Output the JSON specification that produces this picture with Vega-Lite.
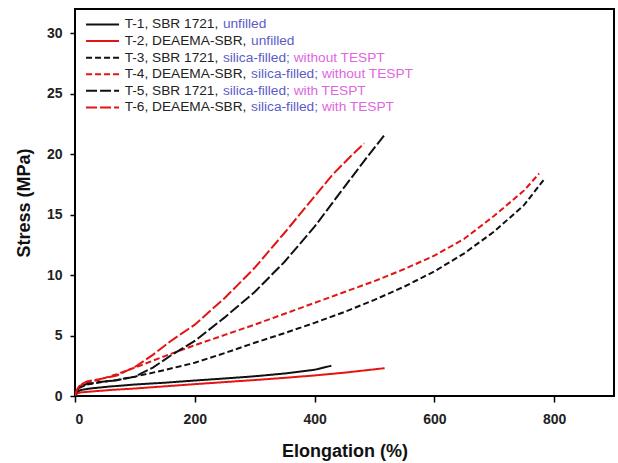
{
  "$schema": "https://vega.github.io/schema/vega-lite/v6.json",
  "width": 539,
  "height": 387,
  "autosize": {"type": "none"},
  "padding": {"left": 75, "top": 9, "right": 4, "bottom": 67},
  "background": "#ffffff",
  "data": {
    "values": [
      {"sample": "T-1", "series": "T-1, SBR 1721, unfilled", "elongation": 0, "stress": 0},
      {"sample": "T-1", "series": "T-1, SBR 1721, unfilled", "elongation": 4, "stress": 0.35},
      {"sample": "T-1", "series": "T-1, SBR 1721, unfilled", "elongation": 10, "stress": 0.5},
      {"sample": "T-1", "series": "T-1, SBR 1721, unfilled", "elongation": 25, "stress": 0.62},
      {"sample": "T-1", "series": "T-1, SBR 1721, unfilled", "elongation": 55, "stress": 0.77},
      {"sample": "T-1", "series": "T-1, SBR 1721, unfilled", "elongation": 100, "stress": 0.95},
      {"sample": "T-1", "series": "T-1, SBR 1721, unfilled", "elongation": 150, "stress": 1.1},
      {"sample": "T-1", "series": "T-1, SBR 1721, unfilled", "elongation": 200, "stress": 1.28},
      {"sample": "T-1", "series": "T-1, SBR 1721, unfilled", "elongation": 250, "stress": 1.45},
      {"sample": "T-1", "series": "T-1, SBR 1721, unfilled", "elongation": 300, "stress": 1.63},
      {"sample": "T-1", "series": "T-1, SBR 1721, unfilled", "elongation": 350, "stress": 1.86},
      {"sample": "T-1", "series": "T-1, SBR 1721, unfilled", "elongation": 400, "stress": 2.17},
      {"sample": "T-1", "series": "T-1, SBR 1721, unfilled", "elongation": 428, "stress": 2.5},
      {"sample": "T-2", "series": "T-2, DEAEMA-SBR, unfilled", "elongation": 0, "stress": 0},
      {"sample": "T-2", "series": "T-2, DEAEMA-SBR, unfilled", "elongation": 3, "stress": 0.2},
      {"sample": "T-2", "series": "T-2, DEAEMA-SBR, unfilled", "elongation": 10, "stress": 0.3},
      {"sample": "T-2", "series": "T-2, DEAEMA-SBR, unfilled", "elongation": 30, "stress": 0.38},
      {"sample": "T-2", "series": "T-2, DEAEMA-SBR, unfilled", "elongation": 60, "stress": 0.5},
      {"sample": "T-2", "series": "T-2, DEAEMA-SBR, unfilled", "elongation": 100, "stress": 0.62},
      {"sample": "T-2", "series": "T-2, DEAEMA-SBR, unfilled", "elongation": 150, "stress": 0.8},
      {"sample": "T-2", "series": "T-2, DEAEMA-SBR, unfilled", "elongation": 200, "stress": 0.98},
      {"sample": "T-2", "series": "T-2, DEAEMA-SBR, unfilled", "elongation": 250, "stress": 1.15},
      {"sample": "T-2", "series": "T-2, DEAEMA-SBR, unfilled", "elongation": 300, "stress": 1.32},
      {"sample": "T-2", "series": "T-2, DEAEMA-SBR, unfilled", "elongation": 350, "stress": 1.5},
      {"sample": "T-2", "series": "T-2, DEAEMA-SBR, unfilled", "elongation": 400, "stress": 1.7},
      {"sample": "T-2", "series": "T-2, DEAEMA-SBR, unfilled", "elongation": 450, "stress": 1.93},
      {"sample": "T-2", "series": "T-2, DEAEMA-SBR, unfilled", "elongation": 517, "stress": 2.3},
      {"sample": "T-3", "series": "T-3, SBR 1721, silica-filled; without TESPT", "elongation": 0, "stress": 0},
      {"sample": "T-3", "series": "T-3, SBR 1721, silica-filled; without TESPT", "elongation": 3, "stress": 0.4},
      {"sample": "T-3", "series": "T-3, SBR 1721, silica-filled; without TESPT", "elongation": 8, "stress": 0.7},
      {"sample": "T-3", "series": "T-3, SBR 1721, silica-filled; without TESPT", "elongation": 20, "stress": 0.95},
      {"sample": "T-3", "series": "T-3, SBR 1721, silica-filled; without TESPT", "elongation": 40, "stress": 1.12},
      {"sample": "T-3", "series": "T-3, SBR 1721, silica-filled; without TESPT", "elongation": 70, "stress": 1.33},
      {"sample": "T-3", "series": "T-3, SBR 1721, silica-filled; without TESPT", "elongation": 100, "stress": 1.6},
      {"sample": "T-3", "series": "T-3, SBR 1721, silica-filled; without TESPT", "elongation": 150, "stress": 2.15},
      {"sample": "T-3", "series": "T-3, SBR 1721, silica-filled; without TESPT", "elongation": 200, "stress": 2.75},
      {"sample": "T-3", "series": "T-3, SBR 1721, silica-filled; without TESPT", "elongation": 250, "stress": 3.55},
      {"sample": "T-3", "series": "T-3, SBR 1721, silica-filled; without TESPT", "elongation": 300, "stress": 4.4},
      {"sample": "T-3", "series": "T-3, SBR 1721, silica-filled; without TESPT", "elongation": 350, "stress": 5.2},
      {"sample": "T-3", "series": "T-3, SBR 1721, silica-filled; without TESPT", "elongation": 400, "stress": 6.05},
      {"sample": "T-3", "series": "T-3, SBR 1721, silica-filled; without TESPT", "elongation": 450, "stress": 6.95},
      {"sample": "T-3", "series": "T-3, SBR 1721, silica-filled; without TESPT", "elongation": 500, "stress": 7.95},
      {"sample": "T-3", "series": "T-3, SBR 1721, silica-filled; without TESPT", "elongation": 550, "stress": 9.05},
      {"sample": "T-3", "series": "T-3, SBR 1721, silica-filled; without TESPT", "elongation": 600, "stress": 10.3},
      {"sample": "T-3", "series": "T-3, SBR 1721, silica-filled; without TESPT", "elongation": 650, "stress": 11.8},
      {"sample": "T-3", "series": "T-3, SBR 1721, silica-filled; without TESPT", "elongation": 700, "stress": 13.6},
      {"sample": "T-3", "series": "T-3, SBR 1721, silica-filled; without TESPT", "elongation": 750, "stress": 15.8},
      {"sample": "T-3", "series": "T-3, SBR 1721, silica-filled; without TESPT", "elongation": 783, "stress": 17.9},
      {"sample": "T-4", "series": "T-4, DEAEMA-SBR, silica-filled; without TESPT", "elongation": 0, "stress": 0},
      {"sample": "T-4", "series": "T-4, DEAEMA-SBR, silica-filled; without TESPT", "elongation": 3, "stress": 0.5},
      {"sample": "T-4", "series": "T-4, DEAEMA-SBR, silica-filled; without TESPT", "elongation": 8, "stress": 0.85},
      {"sample": "T-4", "series": "T-4, DEAEMA-SBR, silica-filled; without TESPT", "elongation": 20, "stress": 1.1},
      {"sample": "T-4", "series": "T-4, DEAEMA-SBR, silica-filled; without TESPT", "elongation": 40, "stress": 1.35},
      {"sample": "T-4", "series": "T-4, DEAEMA-SBR, silica-filled; without TESPT", "elongation": 70, "stress": 1.8},
      {"sample": "T-4", "series": "T-4, DEAEMA-SBR, silica-filled; without TESPT", "elongation": 100, "stress": 2.35},
      {"sample": "T-4", "series": "T-4, DEAEMA-SBR, silica-filled; without TESPT", "elongation": 150, "stress": 3.3},
      {"sample": "T-4", "series": "T-4, DEAEMA-SBR, silica-filled; without TESPT", "elongation": 200, "stress": 4.2},
      {"sample": "T-4", "series": "T-4, DEAEMA-SBR, silica-filled; without TESPT", "elongation": 250, "stress": 5.05},
      {"sample": "T-4", "series": "T-4, DEAEMA-SBR, silica-filled; without TESPT", "elongation": 300, "stress": 5.9},
      {"sample": "T-4", "series": "T-4, DEAEMA-SBR, silica-filled; without TESPT", "elongation": 350, "stress": 6.8},
      {"sample": "T-4", "series": "T-4, DEAEMA-SBR, silica-filled; without TESPT", "elongation": 400, "stress": 7.7},
      {"sample": "T-4", "series": "T-4, DEAEMA-SBR, silica-filled; without TESPT", "elongation": 450, "stress": 8.6},
      {"sample": "T-4", "series": "T-4, DEAEMA-SBR, silica-filled; without TESPT", "elongation": 500, "stress": 9.5},
      {"sample": "T-4", "series": "T-4, DEAEMA-SBR, silica-filled; without TESPT", "elongation": 550, "stress": 10.5},
      {"sample": "T-4", "series": "T-4, DEAEMA-SBR, silica-filled; without TESPT", "elongation": 600, "stress": 11.6},
      {"sample": "T-4", "series": "T-4, DEAEMA-SBR, silica-filled; without TESPT", "elongation": 650, "stress": 13.0},
      {"sample": "T-4", "series": "T-4, DEAEMA-SBR, silica-filled; without TESPT", "elongation": 700, "stress": 14.9},
      {"sample": "T-4", "series": "T-4, DEAEMA-SBR, silica-filled; without TESPT", "elongation": 750, "stress": 17.0},
      {"sample": "T-4", "series": "T-4, DEAEMA-SBR, silica-filled; without TESPT", "elongation": 775, "stress": 18.4},
      {"sample": "T-5", "series": "T-5, SBR 1721, silica-filled; with TESPT", "elongation": 0, "stress": 0},
      {"sample": "T-5", "series": "T-5, SBR 1721, silica-filled; with TESPT", "elongation": 3, "stress": 0.4},
      {"sample": "T-5", "series": "T-5, SBR 1721, silica-filled; with TESPT", "elongation": 8, "stress": 0.75},
      {"sample": "T-5", "series": "T-5, SBR 1721, silica-filled; with TESPT", "elongation": 20, "stress": 1.0},
      {"sample": "T-5", "series": "T-5, SBR 1721, silica-filled; with TESPT", "elongation": 40, "stress": 1.15},
      {"sample": "T-5", "series": "T-5, SBR 1721, silica-filled; with TESPT", "elongation": 70, "stress": 1.3},
      {"sample": "T-5", "series": "T-5, SBR 1721, silica-filled; with TESPT", "elongation": 100, "stress": 1.6},
      {"sample": "T-5", "series": "T-5, SBR 1721, silica-filled; with TESPT", "elongation": 130, "stress": 2.35},
      {"sample": "T-5", "series": "T-5, SBR 1721, silica-filled; with TESPT", "elongation": 160, "stress": 3.35},
      {"sample": "T-5", "series": "T-5, SBR 1721, silica-filled; with TESPT", "elongation": 200, "stress": 4.55},
      {"sample": "T-5", "series": "T-5, SBR 1721, silica-filled; with TESPT", "elongation": 250, "stress": 6.5},
      {"sample": "T-5", "series": "T-5, SBR 1721, silica-filled; with TESPT", "elongation": 300, "stress": 8.6},
      {"sample": "T-5", "series": "T-5, SBR 1721, silica-filled; with TESPT", "elongation": 350, "stress": 11.1},
      {"sample": "T-5", "series": "T-5, SBR 1721, silica-filled; with TESPT", "elongation": 400, "stress": 14.0},
      {"sample": "T-5", "series": "T-5, SBR 1721, silica-filled; with TESPT", "elongation": 450, "stress": 17.3},
      {"sample": "T-5", "series": "T-5, SBR 1721, silica-filled; with TESPT", "elongation": 490, "stress": 19.9},
      {"sample": "T-5", "series": "T-5, SBR 1721, silica-filled; with TESPT", "elongation": 517, "stress": 21.6},
      {"sample": "T-6", "series": "T-6, DEAEMA-SBR, silica-filled; with TESPT", "elongation": 0, "stress": 0},
      {"sample": "T-6", "series": "T-6, DEAEMA-SBR, silica-filled; with TESPT", "elongation": 3, "stress": 0.5},
      {"sample": "T-6", "series": "T-6, DEAEMA-SBR, silica-filled; with TESPT", "elongation": 8, "stress": 0.9},
      {"sample": "T-6", "series": "T-6, DEAEMA-SBR, silica-filled; with TESPT", "elongation": 20, "stress": 1.2},
      {"sample": "T-6", "series": "T-6, DEAEMA-SBR, silica-filled; with TESPT", "elongation": 40, "stress": 1.38},
      {"sample": "T-6", "series": "T-6, DEAEMA-SBR, silica-filled; with TESPT", "elongation": 70, "stress": 1.7},
      {"sample": "T-6", "series": "T-6, DEAEMA-SBR, silica-filled; with TESPT", "elongation": 100, "stress": 2.4},
      {"sample": "T-6", "series": "T-6, DEAEMA-SBR, silica-filled; with TESPT", "elongation": 130, "stress": 3.4},
      {"sample": "T-6", "series": "T-6, DEAEMA-SBR, silica-filled; with TESPT", "elongation": 160, "stress": 4.55},
      {"sample": "T-6", "series": "T-6, DEAEMA-SBR, silica-filled; with TESPT", "elongation": 200, "stress": 5.9},
      {"sample": "T-6", "series": "T-6, DEAEMA-SBR, silica-filled; with TESPT", "elongation": 250, "stress": 8.1},
      {"sample": "T-6", "series": "T-6, DEAEMA-SBR, silica-filled; with TESPT", "elongation": 300, "stress": 10.6},
      {"sample": "T-6", "series": "T-6, DEAEMA-SBR, silica-filled; with TESPT", "elongation": 350, "stress": 13.5},
      {"sample": "T-6", "series": "T-6, DEAEMA-SBR, silica-filled; with TESPT", "elongation": 400, "stress": 16.5},
      {"sample": "T-6", "series": "T-6, DEAEMA-SBR, silica-filled; with TESPT", "elongation": 430, "stress": 18.3},
      {"sample": "T-6", "series": "T-6, DEAEMA-SBR, silica-filled; with TESPT", "elongation": 460, "stress": 19.8},
      {"sample": "T-6", "series": "T-6, DEAEMA-SBR, silica-filled; with TESPT", "elongation": 483, "stress": 20.9}
    ]
  },
  "mark": {"type": "line", "clip": true},
  "encoding": {
    "x": {
      "field": "elongation", "type": "quantitative",
      "scale": {"domain": [0, 900], "nice": false, "zero": false},
      "axis": {"title": "Elongation (%)", "values": [0, 200, 400, 600, 800], "tickSize": 6, "labelPadding": 10, "titlePadding": 16}
    },
    "y": {
      "field": "stress", "type": "quantitative",
      "scale": {"domain": [0, 32], "nice": false, "zero": false},
      "axis": {"title": "Stress (MPa)", "values": [0, 5, 10, 15, 20, 25, 30], "tickSize": 5, "labelPadding": 8, "titlePadding": 13}
    },
    "color": {
      "field": "series", "type": "nominal",
      "scale": {
        "domain": ["T-1, SBR 1721, unfilled", "T-2, DEAEMA-SBR, unfilled", "T-3, SBR 1721, silica-filled; without TESPT", "T-4, DEAEMA-SBR, silica-filled; without TESPT", "T-5, SBR 1721, silica-filled; with TESPT", "T-6, DEAEMA-SBR, silica-filled; with TESPT"],
        "range": ["#111111", "#e41414", "#111111", "#e41414", "#111111", "#e41414"]
      },
      "legend": {"title": null, "labelExpr": "split(datum.label, ', ')[0] + ', ' + split(datum.label, ', ')[1] + ','"}
    },
    "strokeDash": {
      "field": "series", "type": "nominal",
      "scale": {
        "domain": ["T-1, SBR 1721, unfilled", "T-2, DEAEMA-SBR, unfilled", "T-3, SBR 1721, silica-filled; without TESPT", "T-4, DEAEMA-SBR, silica-filled; without TESPT", "T-5, SBR 1721, silica-filled; with TESPT", "T-6, DEAEMA-SBR, silica-filled; with TESPT"],
        "range": [[1, 0], [1, 0], [6, 3], [6, 3], [11, 3], [11, 3]]
      },
      "legend": {"title": null, "labelExpr": "split(datum.label, ', ')[0] + ', ' + split(datum.label, ', ')[1] + ','"}
    },
    "opacity": {
      "field": "series", "type": "ordinal",
      "scale": {"range": [1, 1]},
      "legend": {
        "title": null,
        "symbolType": "M0,0",
        "labelColor": "#5c5cc8",
        "labelExpr": "split(split(datum.label, ', ')[2], ' ')[0]",
        "encode": {"labels": {"update": {"dx": {"signal": "indexof(datum.value, 'DEAEMA') >= 0 ? 126.4 : 98.2"}}}}
      }
    },
    "strokeWidth": {
      "field": "sample", "type": "ordinal",
      "scale": {"range": [2, 2]},
      "legend": {
        "title": null,
        "symbolType": "M0,0",
        "labelColor": "#e066e0",
        "labelExpr": "(datum.label == 'T-3' || datum.label == 'T-4') ? 'without TESPT' : ((datum.label == 'T-5' || datum.label == 'T-6') ? 'with TESPT' : '')",
        "encode": {"labels": {"update": {"dx": {"signal": "(datum.value == 'T-2' || datum.value == 'T-4' || datum.value == 'T-6') ? 197.2 : 169"}}}}
      }
    }
  },
  "config": {
    "view": {"stroke": "#000000", "strokeWidth": 2},
    "font": "Liberation Sans",
    "axis": {
      "domain": false, "grid": false,
      "labelFont": "Liberation Sans", "labelFontSize": 14, "labelFontWeight": "bold", "labelColor": "#222222",
      "titleFont": "Liberation Sans", "titleFontSize": 18, "titleFontWeight": "bold", "titleColor": "#111111",
      "tickColor": "#000000", "tickWidth": 1.5
    },
    "legend": {
      "orient": "none", "legendX": 20.7, "legendY": 8.6, "padding": 0,
      "labelFont": "Liberation Sans", "labelFontSize": 13.7, "labelColor": "#222222",
      "symbolSize": 100, "symbolType": "M-3.3,0H3.3", "symbolStrokeWidth": 2,
      "labelOffset": 15.3, "rowPadding": 1.6, "labelLimit": 400
    }
  }
}
